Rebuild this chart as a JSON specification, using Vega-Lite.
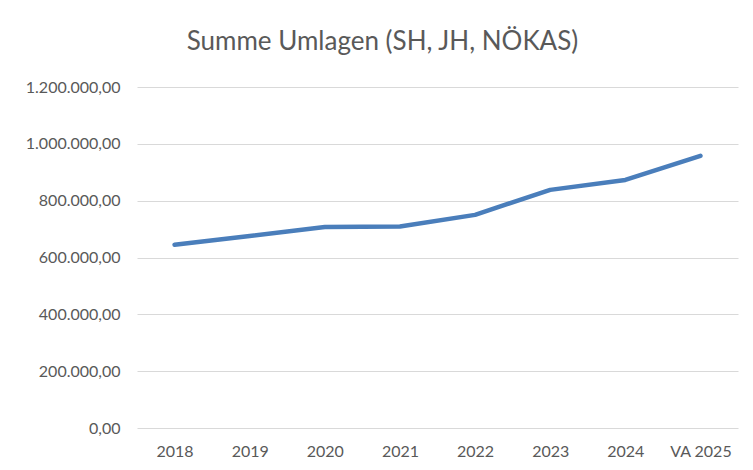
{
  "$schema": "https://vega.github.io/schema/vega-lite/v6.json",
  "width": 601,
  "height": 341,
  "autosize": {"type": "none"},
  "padding": {"left": 137, "top": 87, "right": 15, "bottom": 42},
  "background": "white",
  "title": {
    "text": "Summe Umlagen (SH, JH, NÖKAS)",
    "font": "Lato",
    "fontSize": 26,
    "fontWeight": "normal",
    "color": "#595959",
    "anchor": "middle",
    "frame": "group",
    "dx": -55,
    "offset": 24
  },
  "data": {
    "values": [
      {"jahr": "2018", "summe": 645000},
      {"jahr": "2019", "summe": 676000},
      {"jahr": "2020", "summe": 707000},
      {"jahr": "2021", "summe": 709000},
      {"jahr": "2022", "summe": 750000},
      {"jahr": "2023", "summe": 838000},
      {"jahr": "2024", "summe": 873000},
      {"jahr": "VA 2025", "summe": 958000}
    ]
  },
  "mark": {"type": "line", "color": "#4a7ebb", "strokeWidth": 4.5, "strokeCap": "round", "strokeJoin": "round"},
  "encoding": {
    "x": {
      "field": "jahr",
      "type": "ordinal",
      "sort": null,
      "scale": {"paddingInner": 0, "paddingOuter": 0.5},
      "axis": {
        "title": null,
        "labelAngle": 0,
        "ticks": false,
        "domain": false,
        "grid": false,
        "labelPadding": 15,
        "labelFont": "Lato",
        "labelFontSize": 16,
        "labelColor": "#595959"
      }
    },
    "y": {
      "field": "summe",
      "type": "quantitative",
      "scale": {"domain": [0, 1200000], "nice": false},
      "axis": {
        "title": null,
        "values": [0, 200000, 400000, 600000, 800000, 1000000, 1200000],
        "format": ",.2f",
        "ticks": false,
        "domain": false,
        "grid": true,
        "gridColor": "#d9d9d9",
        "gridWidth": 1,
        "labelPadding": 17,
        "labelFont": "Lato",
        "labelFontSize": 16,
        "labelColor": "#595959"
      }
    }
  },
  "config": {
    "view": {"stroke": null},
    "locale": {
      "number": {"decimal": ",", "thousands": ".", "grouping": [3], "currency": ["", " €"]}
    }
  }
}
